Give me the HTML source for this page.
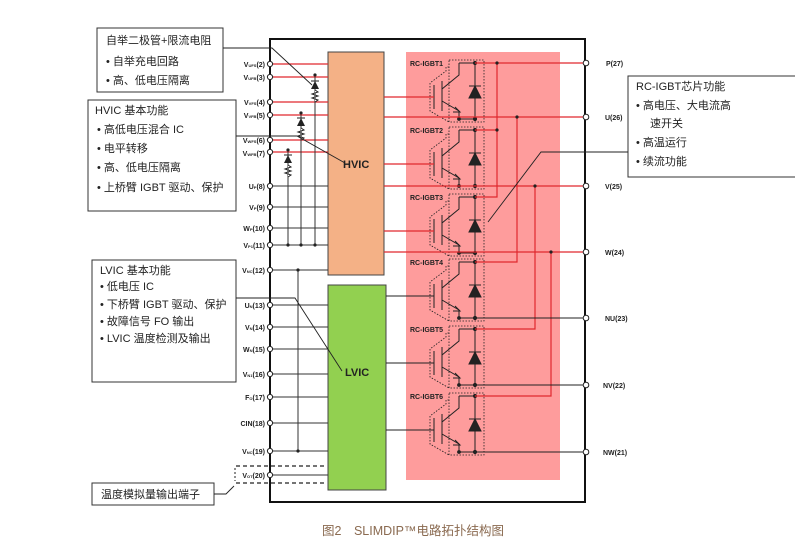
<!DOCTYPE html>
<html><head><meta charset="utf-8"><style>
html,body{margin:0;padding:0;background:#fff;}
svg{display:block;font-family:"Liberation Sans","Noto Sans CJK SC",sans-serif;}
.cn{font-size:11px;fill:#222;}
.pin{font-size:7px;font-weight:bold;fill:#222;}
.lab{font-size:7px;font-weight:bold;fill:#222;}
</style></head><body>
<svg width="795" height="553" viewBox="0 0 795 553" xmlns="http://www.w3.org/2000/svg">
<defs>
<g id="cell" fill="none" stroke="#222" stroke-width="1">
  <path d="M459,0 H475 V56 H459 V48 L442,38"/>
  <path d="M459,0 V12 L442,26"/>
  <path d="M442,18 V48"/>
  <path d="M434,22 V46"/>
  <path d="M455,44 L460,49 L453,49" fill="none"/>
  <path d="M469,23 H481" />
  <path d="M469,35 H481 L475,23 Z" fill="#222"/>
  <circle cx="475" cy="0" r="1.6" fill="#222"/>
  <circle cx="475" cy="56" r="1.6" fill="#222"/>
  <circle cx="459" cy="56" r="1.4" fill="#222"/>
  <path d="M449,-3 H484 V59 H449 Z" stroke-dasharray="1.5,1.5" stroke-width="0.8"/>
  <path d="M449,4 H446 V8 L430,20 V48 L449,59" stroke-dasharray="1.5,1.5" stroke-width="0.8"/>
</g>
</defs>

<path d="M270,39 H585 V502 H270 Z" fill="none" stroke="#111" stroke-width="2"/>
<rect x="406" y="52" width="154" height="428" fill="#fe9c9c"/>
<rect x="328" y="52" width="56" height="223" fill="#f4b186" stroke="#444" stroke-width="1"/>
<rect x="328" y="285" width="58" height="205" fill="#92d050" stroke="#444" stroke-width="1"/>
<text x="343" y="168" font-size="11" font-weight="bold" fill="#222">HVIC</text>
<text x="345" y="376" font-size="11" font-weight="bold" fill="#222">LVIC</text>

<g stroke="#e0282e" stroke-width="1.2">
  <line x1="270" y1="64" x2="328" y2="64"/><line x1="270" y1="77" x2="328" y2="77"/>
  <line x1="270" y1="102" x2="328" y2="102"/><line x1="270" y1="115" x2="328" y2="115"/>
  <line x1="270" y1="140" x2="328" y2="140"/><line x1="270" y1="152" x2="328" y2="152"/>
</g>
<g stroke="#333" stroke-width="1">
  <line x1="270" y1="186" x2="328" y2="186"/><line x1="270" y1="207" x2="328" y2="207"/>
  <line x1="270" y1="228" x2="328" y2="228"/><line x1="270" y1="245" x2="328" y2="245"/>
  <line x1="270" y1="270" x2="328" y2="270"/>
  <line x1="270" y1="305" x2="328" y2="305"/><line x1="270" y1="327" x2="328" y2="327"/>
  <line x1="270" y1="349" x2="328" y2="349"/><line x1="270" y1="374" x2="328" y2="374"/>
  <line x1="270" y1="397" x2="328" y2="397"/><line x1="270" y1="423" x2="328" y2="423"/>
  <line x1="270" y1="451" x2="328" y2="451"/><line x1="270" y1="475" x2="328" y2="475"/>
  <line x1="315" y1="77" x2="315" y2="245"/>
  <line x1="301" y1="115" x2="301" y2="245"/>
  <line x1="288" y1="152" x2="288" y2="245"/>
  <line x1="298" y1="270" x2="298" y2="451"/>
</g>
<g fill="#222">
  <circle cx="315" cy="75" r="1.6"/><circle cx="301" cy="113" r="1.6"/><circle cx="288" cy="150" r="1.6"/>
  <circle cx="315" cy="245" r="1.6"/><circle cx="301" cy="245" r="1.6"/><circle cx="288" cy="245" r="1.6"/>
  <circle cx="298" cy="270" r="1.6"/><circle cx="298" cy="451" r="1.6"/>
  <path d="M311,89 H319 L315,81 Z"/><path d="M297,126 H305 L301,118 Z"/><path d="M284,163 H292 L288,155 Z"/>
</g>
<g stroke="#222" stroke-width="1" fill="none">
  <path d="M311,81 H319 M297,118 H305 M284,155 H292"/>
  <path d="M315,90 l3,2 l-6,2 l6,2 l-6,2 l6,2 l-3,2" fill="#fff"/>
  <path d="M301,128 l3,2 l-6,2 l6,2 l-6,2 l6,2 l-3,2" fill="#fff"/>
  <path d="M288,165 l3,2 l-6,2 l6,2 l-6,2 l6,2 l-3,2" fill="#fff"/>
</g>
<g stroke="#222" stroke-width="1.2" stroke-dasharray="4,3">
  <line x1="236" y1="466" x2="326" y2="466"/><line x1="236" y1="483" x2="326" y2="483"/>
</g>
<path d="M235,468 V481" stroke="#222" stroke-dasharray="2,2" fill="none"/>

<g fill="#fff" stroke="#222" stroke-width="1">
  <circle cx="270" cy="64" r="2.6"/><circle cx="270" cy="77" r="2.6"/><circle cx="270" cy="102" r="2.6"/>
  <circle cx="270" cy="115" r="2.6"/><circle cx="270" cy="140" r="2.6"/><circle cx="270" cy="152" r="2.6"/>
  <circle cx="270" cy="186" r="2.6"/><circle cx="270" cy="207" r="2.6"/><circle cx="270" cy="228" r="2.6"/>
  <circle cx="270" cy="245" r="2.6"/><circle cx="270" cy="270" r="2.6"/><circle cx="270" cy="305" r="2.6"/>
  <circle cx="270" cy="327" r="2.6"/><circle cx="270" cy="349" r="2.6"/><circle cx="270" cy="374" r="2.6"/>
  <circle cx="270" cy="397" r="2.6"/><circle cx="270" cy="423" r="2.6"/><circle cx="270" cy="451" r="2.6"/>
  <circle cx="270" cy="475" r="2.6"/>
</g>
<g class="pin" text-anchor="end">
  <text x="265" y="67">V<tspan font-size="4">UFS</tspan>(2)</text>
  <text x="265" y="80">V<tspan font-size="4">UFB</tspan>(3)</text>
  <text x="265" y="105">V<tspan font-size="4">VFS</tspan>(4)</text>
  <text x="265" y="118">V<tspan font-size="4">VFB</tspan>(5)</text>
  <text x="265" y="143">V<tspan font-size="4">WFS</tspan>(6)</text>
  <text x="265" y="156">V<tspan font-size="4">WFB</tspan>(7)</text>
  <text x="265" y="189">U<tspan font-size="4">P</tspan>(8)</text>
  <text x="265" y="210">V<tspan font-size="4">P</tspan>(9)</text>
  <text x="265" y="231">W<tspan font-size="4">P</tspan>(10)</text>
  <text x="265" y="248">V<tspan font-size="4">P1</tspan>(11)</text>
  <text x="265" y="273">V<tspan font-size="4">NC</tspan>(12)</text>
  <text x="265" y="308">U<tspan font-size="4">N</tspan>(13)</text>
  <text x="265" y="330">V<tspan font-size="4">N</tspan>(14)</text>
  <text x="265" y="352">W<tspan font-size="4">N</tspan>(15)</text>
  <text x="265" y="377">V<tspan font-size="4">N1</tspan>(16)</text>
  <text x="265" y="400">F<tspan font-size="4">O</tspan>(17)</text>
  <text x="265" y="426">CIN(18)</text>
  <text x="265" y="454">V<tspan font-size="4">NC</tspan>(19)</text>
  <text x="265" y="478">V<tspan font-size="4">OT</tspan>(20)</text>
</g>

<use href="#cell" transform="translate(0,63)"/>
<use href="#cell" transform="translate(0,130)"/>
<use href="#cell" transform="translate(0,197)"/>
<use href="#cell" transform="translate(0,262)"/>
<use href="#cell" transform="translate(0,329)"/>
<use href="#cell" transform="translate(0,396)"/>
<g class="lab">
  <text x="410" y="66">RC-IGBT1</text><text x="410" y="133">RC-IGBT2</text>
  <text x="410" y="200">RC-IGBT3</text><text x="410" y="265">RC-IGBT4</text>
  <text x="410" y="332">RC-IGBT5</text><text x="410" y="399">RC-IGBT6</text>
</g>
<g stroke="#e0282e" stroke-width="1.2" fill="none">
  <path d="M475,63 H586"/>
  <path d="M497,63 V197 H475 M497,130 H475"/>
  <path d="M384,117 H586"/><path d="M517,117 V262 H475"/>
  <path d="M384,186 H586"/><path d="M535,186 V329 H475"/>
  <path d="M384,252 H586"/><path d="M551,252 V396 H475"/>
  <path d="M384,97 H434 M384,164 H434 M384,231 H434"/>
</g>
<g fill="#222"><circle cx="497" cy="63" r="1.6"/><circle cx="497" cy="130" r="1.6"/>
<circle cx="517" cy="117" r="1.6"/><circle cx="535" cy="186" r="1.6"/><circle cx="551" cy="252" r="1.6"/></g>
<g stroke="#222" stroke-width="1" fill="none">
  <path d="M386,296 H434 M386,363 H434 M386,430 H434"/>
  <path d="M475,318 H586 M475,385 H586 M475,452 H586"/>
</g>
<g fill="#fff" stroke="#222" stroke-width="1">
  <circle cx="586" cy="63" r="2.8"/><circle cx="586" cy="117" r="2.8"/><circle cx="586" cy="186" r="2.8"/>
  <circle cx="586" cy="252" r="2.8"/><circle cx="586" cy="318" r="2.8"/><circle cx="586" cy="385" r="2.8"/>
  <circle cx="586" cy="452" r="2.8"/>
</g>
<g class="pin">
  <text x="606" y="66">P(27)</text><text x="605" y="120">U(26)</text><text x="605" y="189">V(25)</text>
  <text x="605" y="255">W(24)</text><text x="605" y="321">NU(23)</text><text x="603" y="388">NV(22)</text>
  <text x="603" y="455">NW(21)</text>
</g>

<g fill="#fff" stroke="#333" stroke-width="1">
  <rect x="97" y="28" width="126" height="64"/>
  <rect x="88" y="100" width="148" height="111"/>
  <rect x="92" y="260" width="144" height="122"/>
  <rect x="92" y="483" width="122" height="22"/>
  <rect x="628" y="76" width="170" height="101"/>
</g>
<g stroke="#222" stroke-width="0.9" fill="none">
  <path d="M223,48 H272 L312,85"/>
  <path d="M236,136 H297 L345,163"/>
  <path d="M236,298 H295 L342,371"/>
  <path d="M214,494 H226 L234,486"/>
  <path d="M628,152 H541 L488,222"/>
</g>
<g class="cn">
  <text x="106" y="44">自举二极管+限流电阻</text>
  <text x="106" y="65">•  自举充电回路</text>
  <text x="106" y="84">•  高、低电压隔离</text>
  <text x="95" y="114">HVIC 基本功能</text>
  <text x="97" y="133">•  高低电压混合 IC</text>
  <text x="97" y="152">•  电平转移</text>
  <text x="97" y="171">•  高、低电压隔离</text>
  <text x="97" y="191">•  上桥臂 IGBT 驱动、保护</text>
  <text x="100" y="274">LVIC 基本功能</text>
  <text x="100" y="290">•  低电压 IC</text>
  <text x="100" y="308">•  下桥臂 IGBT 驱动、保护</text>
  <text x="100" y="325">•  故障信号 FO 输出</text>
  <text x="100" y="342">•  LVIC 温度检测及输出</text>
  <text x="101" y="498">温度模拟量输出端子</text>
  <text x="636" y="90">RC-IGBT芯片功能</text>
  <text x="636" y="109">•  高电压、大电流高</text>
  <text x="650" y="127">速开关</text>
  <text x="636" y="146">•  高温运行</text>
  <text x="636" y="165">•  续流功能</text>
</g>
<text x="322" y="535" font-size="12.5" fill="#8a6a50">图2　SLIMDIP™电路拓扑结构图</text>
</svg>
</body></html>
